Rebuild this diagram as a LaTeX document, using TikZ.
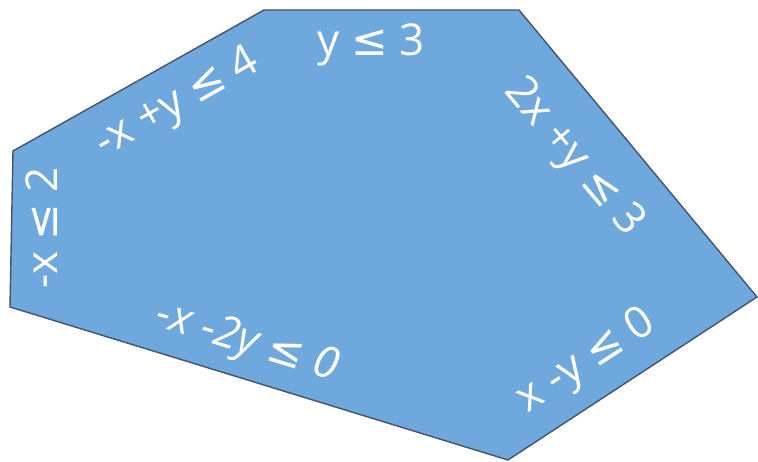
\documentclass[tikz,border=0pt]{standalone}
\usepackage{fontspec}
\setmainfont{Open Sans}
\newfontfamily\symfont{DejaVu Sans}
\usepackage{xcolor}
\usetikzlibrary{positioning,calc}
\definecolor{regionfill}{HTML}{6FA8DC}
\definecolor{regionedge}{HTML}{44546A}
\newcommand{\lesym}{{\symfont\upshape ≤}}
\tikzset{
  region/.style={fill=regionfill, draw=regionedge, line width=0.8pt, line join=miter},
  cons/.style={text=white, font=\fontsize{25}{27}\selectfont, inner sep=0pt},
}
\begin{document}
\begin{tikzpicture}[x=0.02cm, y=-0.02cm, line cap=round]
\useasboundingbox (0,0) rectangle (758,462);

% ---- feasible region ----
\coordinate (tl) at (264,10);
\coordinate (tr) at (519,10);
\coordinate (rt) at (757,297);
\coordinate (bt) at (508,460);
\coordinate (lb) at (10,307);
\coordinate (lt) at (13,151);
\draw[region] (tl) -- (tr) -- (rt) -- (bt) -- (lb) -- (lt) -- cycle;

% ---- constraint labels, one per edge ----
\node[cons] (ctop) at (371,45) {y \lesym{} 3};
\node[cons, rotate=29.5] (cdiag) at (178,104) {-x +y \lesym{} 4};
\node[cons, rotate=90] (cleft) at (42,228) {-x \lesym{} 2};
\node[cons, rotate=-50] (cright) at (573,158) {2x +y \lesym{} 3};
\node[cons, rotate=33] (clow) at (587,362) {x -y \lesym{} 0};
\node[cons, rotate=-17, font=\fontsize{25}{27}\selectfont\itshape] (cbot) at (247,343) {-x -2y \lesym{} 0};
\end{tikzpicture}
\end{document}
